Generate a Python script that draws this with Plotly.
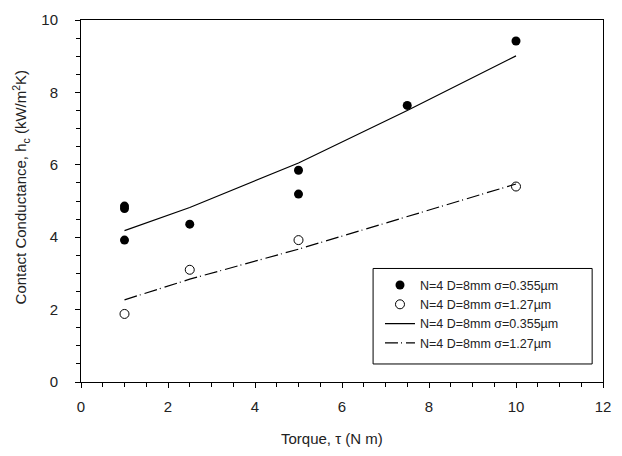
import plotly.graph_objects as go

# Measured data
x_fill = [1, 1, 1, 2.5, 5, 5, 7.5, 10]
y_fill = [4.86, 4.79, 3.92, 4.36, 5.85, 5.19, 7.64, 9.42]
x_open = [1, 2.5, 5, 10]
y_open = [1.88, 3.10, 3.92, 5.40]
# Model curves
x_model = [1, 2.5, 5, 7.5, 10]
y_model_a = [4.18, 4.82, 6.05, 7.50, 9.01]
y_model_b = [2.27, 2.84, 3.67, 4.56, 5.47]

label_a = "N=4 D=8mm σ=0.355µm"
label_b = "N=4 D=8mm σ=1.27µm"
x_title = "Torque, τ (N m)"
y_title = "Contact Conductance, h<sub>c</sub> (kW/m<sup>2</sup>K)"

FONT = "Liberation Sans, Arial"
TXT = "#222"

fig = go.Figure()
fig.add_trace(go.Scatter(x=x_fill, y=y_fill, mode="markers", name=label_a,
                         marker=dict(symbol="circle", size=9, color="black",
                                     line=dict(width=0))))
fig.add_trace(go.Scatter(x=x_open, y=y_open, mode="markers", name=label_b,
                         marker=dict(symbol="circle-open", size=9, color="black",
                                     line=dict(width=1))))
fig.add_trace(go.Scatter(x=x_model, y=y_model_a, mode="lines", name=label_a,
                         line=dict(color="black", width=1.2)))
fig.add_trace(go.Scatter(x=x_model, y=y_model_b, mode="lines", name=label_b,
                         line=dict(color="black", width=1.2, dash="13px,3px,1px,4px")))

axis_common = dict(
    showgrid=False, zeroline=False, showline=True, linecolor="black", linewidth=1,
    mirror=True, ticks="outside", ticklen=5, tickwidth=1, tickcolor="black",
    tickfont=dict(family=FONT, size=15, color=TXT),
)

fig.update_xaxes(range=[0, 12], dtick=2, tick0=0, ticklabelstandoff=6,
                 minor=dict(ticks="outside", dtick=0.5, ticklen=4, tickcolor="black"),
                 **axis_common)
fig.update_yaxes(range=[0, 10], dtick=2, tick0=0, ticklabelstandoff=14,
                 minor=dict(ticks="outside", dtick=0.5, ticklen=4, tickcolor="black"),
                 **axis_common)

fig.add_annotation(text=x_title, xref="paper", yref="paper",
                   x=(335 - 81) / 529, y=(382.5 - 440) / 371.5,
                   xanchor="center", yanchor="middle", showarrow=False,
                   font=dict(family=FONT, size=15, color=TXT))
fig.add_annotation(text=y_title, xref="paper", yref="paper",
                   x=(20 - 81) / 529, y=(382.5 - 182) / 371.5, textangle=-90,
                   xanchor="center", yanchor="middle", showarrow=False,
                   font=dict(family=FONT, size=15, color=TXT))

# legend frame (wider than the text, as in the reference)
fig.add_shape(type="rect", xref="paper", yref="paper",
              x0=(377 - 81) / 529, x1=(599 - 81) / 529,
              y0=(382.5 - 364) / 371.5, y1=(382.5 - 266) / 371.5,
              line=dict(color="black", width=1), fillcolor="white", layer="above")

fig.update_layout(
    width=622, height=456,
    margin=dict(l=81, r=12, t=11, b=74),
    plot_bgcolor="white", paper_bgcolor="white",
    legend=dict(x=(384 - 81) / 529, y=(382.5 - 268) / 371.5,
                xanchor="left", yanchor="top",
                borderwidth=0, bgcolor="rgba(0,0,0,0)",
                font=dict(family=FONT, size=12.5, color=TXT),
                tracegroupgap=0),
    showlegend=True,
)

fig.write_html("out.html")
